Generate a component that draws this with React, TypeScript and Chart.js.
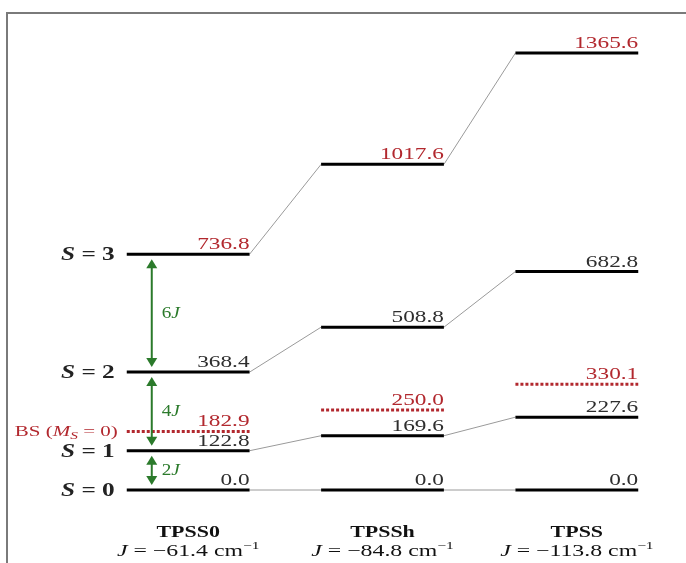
import React, { useEffect, useRef } from "react";
import { Chart, registerables } from "chart.js";

Chart.register(...registerables);

// ---- data ----
const methods = ["TPSS0", "TPSSh", "TPSS"];
const jValues = [-61.4, -84.8, -113.8];
const spinStates = [0, 1, 2, 3];
const levelS0 = [0.0, 0.0, 0.0];
const levelS1 = [122.8, 169.6, 227.6];
const levelS2 = [368.4, 508.8, 682.8];
const levelS3 = [736.8, 1017.6, 1365.6];
const levelBS = [182.9, 250.0, 330.1];
const arrowLabels = ["2J", "4J", "6J"]; // between S0-S1, S1-S2, S2-S3

const levels = [levelS0, levelS1, levelS2, levelS3];

// ---- styles ----
const HW = 0.316; // half width of a level bar in column units
const RED = "#b2282e";
const DARK = "#2e2e2e";
const GREEN = "#2b7a2b";
const SERIF = '"Liberation Serif", "DejaVu Serif", serif';
const SX = 1.33; // horizontal stretch of the lettering

type Seg = { t: string; italic?: boolean; bold?: boolean; size?: number; dy?: number };

function drawRich(
  ctx: CanvasRenderingContext2D,
  segs: Seg[],
  x: number,
  y: number,
  align: "left" | "right" | "center",
  color: string,
  baseSize: number,
  sx = SX
) {
  const fontOf = (s: Seg) => `${s.italic ? "italic " : ""}${s.bold ? "bold " : ""}${s.size ?? baseSize}px ${SERIF}`;
  let total = 0;
  const widths = segs.map((s) => {
    ctx.font = fontOf(s);
    const w = ctx.measureText(s.t).width * sx;
    total += w;
    return w;
  });
  let cx = align === "left" ? x : align === "right" ? x - total : x - total / 2;
  ctx.fillStyle = color;
  ctx.textAlign = "left";
  segs.forEach((s, i) => {
    ctx.save();
    ctx.font = fontOf(s);
    ctx.translate(cx, y + (s.dy ?? 0));
    ctx.scale(sx, 1);
    ctx.fillText(s.t, 0, 0);
    ctx.restore();
    cx += widths[i];
  });
}

function arrow(ctx: CanvasRenderingContext2D, x: number, y1: number, y2: number) {
  const head = 9;
  const hw = 5.5;
  ctx.save();
  ctx.strokeStyle = GREEN;
  ctx.fillStyle = GREEN;
  ctx.lineWidth = 2;
  ctx.beginPath();
  ctx.moveTo(x, y1 + head - 1);
  ctx.lineTo(x, y2 - head + 1);
  ctx.stroke();
  ctx.beginPath();
  ctx.moveTo(x, y1);
  ctx.lineTo(x - hw, y1 + head);
  ctx.lineTo(x + hw, y1 + head);
  ctx.closePath();
  ctx.fill();
  ctx.beginPath();
  ctx.moveTo(x, y2);
  ctx.lineTo(x - hw, y2 - head);
  ctx.lineTo(x + hw, y2 - head);
  ctx.closePath();
  ctx.fill();
  ctx.restore();
}

const annotationPlugin = {
  id: "levelAnnotations",
  afterDraw(chart: any) {
    const ctx: CanvasRenderingContext2D = chart.ctx;
    const xs = chart.scales.x;
    const ys = chart.scales.y;
    ctx.save();

    // frame
    ctx.strokeStyle = "#7a7a7a";
    ctx.lineWidth = 2;
    ctx.beginPath();
    ctx.moveTo(7, chart.height);
    ctx.lineTo(7, 13);
    ctx.lineTo(chart.width, 13);
    ctx.stroke();

    ctx.textBaseline = "alphabetic";
    // value labels
    levels.forEach((arr, s) => {
      arr.forEach((v, m) => {
        const x = xs.getPixelForValue(m + HW);
        const y = ys.getPixelForValue(v);
        drawRich(ctx, [{ t: v.toFixed(1) }], x, y - 5, "right", s === 3 ? RED : DARK, 17.5);
      });
    });
    levelBS.forEach((v, m) => {
      const x = xs.getPixelForValue(m + HW);
      const y = ys.getPixelForValue(v);
      drawRich(ctx, [{ t: v.toFixed(1) }], x, y - 5, "right", RED, 17.5);
    });

    // left spin labels
    const leftX = xs.getPixelForValue(-HW) - 12;
    spinStates.forEach((s, i) => {
      const y = ys.getPixelForValue(levels[i][0]);
      drawRich(
        ctx,
        [{ t: "S", italic: true, bold: true }, { t: ` = ${s}`, bold: true }],
        leftX,
        y + 6,
        "right",
        "#222",
        19
      );
    });
    const bsY = ys.getPixelForValue(levelBS[0]);
    drawRich(
      ctx,
      [{ t: "BS (" }, { t: "M", italic: true }, { t: "S", italic: true, size: 11, dy: 3 }, { t: " = 0)" }],
      leftX + 3,
      bsY + 5,
      "right",
      RED,
      15,
      1.4
    );

    // green arrows on first column
    const ax = xs.getPixelForValue(-HW) + 25;
    for (let i = 0; i < 3; i++) {
      const yLow = ys.getPixelForValue(levels[i][0]);
      const yHigh = ys.getPixelForValue(levels[i + 1][0]);
      arrow(ctx, ax, yHigh + 5, yLow - 5);
      const label = arrowLabels[i];
      drawRich(
        ctx,
        [{ t: label.slice(0, 1) }, { t: label.slice(1), italic: true }],
        ax + 10,
        (yLow + yHigh) / 2 + 5,
        "left",
        GREEN,
        16,
        1.2
      );
    }

    // bottom method labels
    methods.forEach((name, m) => {
      const x = xs.getPixelForValue(m);
      drawRich(ctx, [{ t: name, bold: true }], x, 537, "center", "#111", 16.5);
      const j = jValues[m].toFixed(1).replace("-", "\u2212");
      drawRich(
        ctx,
        [{ t: "J", italic: true }, { t: ` = ${j} cm` }, { t: "\u22121", size: 11, dy: -7 }],
        x,
        556,
        "center",
        "#111",
        17,
        1.4
      );
    });

    ctx.restore();
  },
};

export default function App() {
  const ref = useRef<HTMLCanvasElement>(null);
  useEffect(() => {
    const datasets: any[] = [];
    levels.forEach((arr) => {
      arr.forEach((v, m) => {
        datasets.push({
          data: [{ x: m - HW, y: v }, { x: m + HW, y: v }],
          borderColor: "#000",
          borderWidth: 3,
          pointRadius: 0,
          order: 0,
          clip: false,
        });
      });
      for (let m = 0; m < arr.length - 1; m++) {
        datasets.push({
          data: [{ x: m + HW, y: arr[m] }, { x: m + 1 - HW, y: arr[m + 1] }],
          borderColor: "#9a9a9a",
          borderWidth: 1,
          pointRadius: 0,
          order: 1,
          clip: false,
        });
      }
    });
    levelBS.forEach((v, m) => {
      datasets.push({
        data: [{ x: m - HW, y: v }, { x: m + HW, y: v }],
        borderColor: RED,
        borderWidth: 3,
        borderDash: [3, 2],
        pointRadius: 0,
        order: 0,
        clip: false,
      });
    });

    const chart = new Chart(ref.current!, {
      type: "line",
      data: { datasets },
      options: {
        animation: false,
        responsive: false,
        layout: { padding: { left: 91, right: 12, top: 42, bottom: 41 } },
        plugins: { legend: { display: false }, tooltip: { enabled: false } },
        scales: {
          x: { type: "linear", min: -0.5, max: 2.5, display: false },
          y: { type: "linear", min: -100, max: 1400, display: false },
        },
      },
      plugins: [annotationPlugin],
    });
    return () => chart.destroy();
  }, []);

  return (
    <div style={{ position: "fixed", left: 0, top: 0, width: 686, height: 563, background: "#fff" }}>
      <canvas ref={ref} width={686} height={563} style={{ display: "block" }} />
    </div>
  );
}
